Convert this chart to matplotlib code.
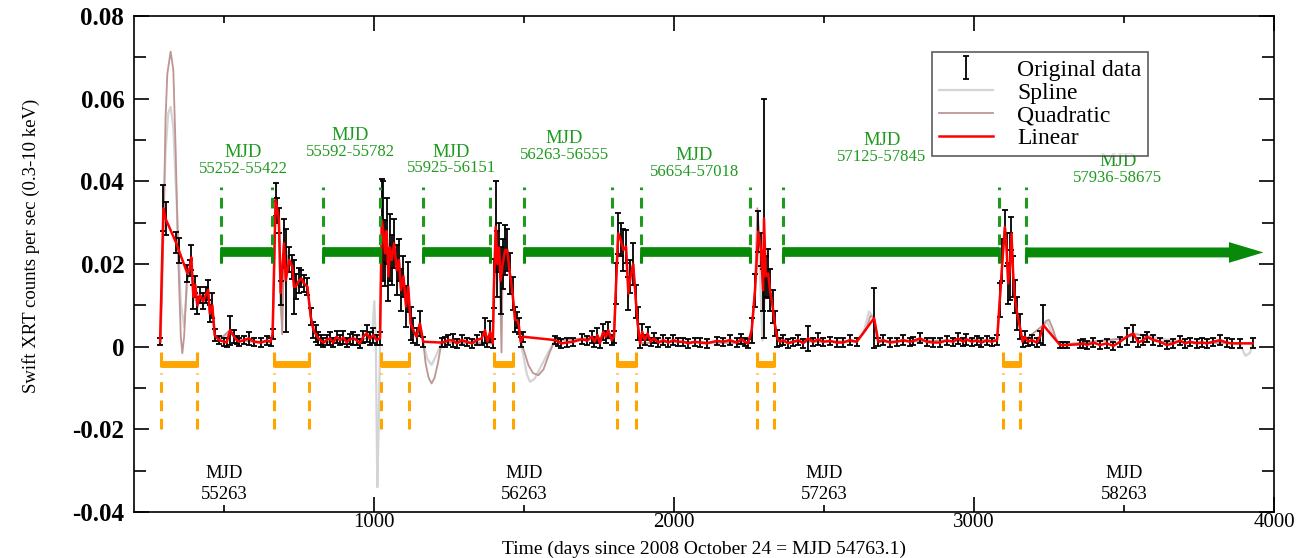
import matplotlib.pyplot as plt

plt.rcParams['font.family'] = ['Liberation Serif', 'DejaVu Serif']

# Swift XRT light curve (days since MJD 54763.1, counts/s, 1-sigma error)
days = [287, 298, 305, 340, 350, 378, 386, 391, 398, 404, 411, 420, 430, 439, 447, 453, 461, 469, 483, 500,
        509, 520, 533, 542, 550, 567, 583, 600, 622, 644, 655, 662,
        672, 678, 683, 689, 700, 706, 717, 728, 733, 739, 750, 758, 767, 778, 789, 798, 805, 814, 822, 831,
        842, 853, 864, 875, 887, 898, 909, 920, 931, 942, 953, 964, 975, 987, 998, 1009, 1020,
        1026, 1031, 1037, 1042, 1048, 1053, 1059, 1067, 1076, 1083, 1090, 1098, 1107, 1114, 1122, 1131,
        1142, 1153, 1164,
        1225, 1237, 1248, 1264, 1276, 1292, 1309, 1326, 1342, 1359, 1370, 1378, 1387, 1396,
        1400, 1406, 1411, 1417, 1422, 1429, 1437, 1444, 1453, 1462, 1470, 1478, 1483, 1489, 1498,
        1603, 1614, 1625, 1642, 1664, 1692, 1711, 1726, 1735, 1745, 1753, 1764, 1773, 1781, 1792, 1800,
        1807, 1814, 1822, 1831, 1840, 1848, 1855, 1864, 1873, 1879, 1887, 1894, 1903, 1912, 1922, 1933,
        1948, 1964, 1981, 1998, 2014, 2031, 2048, 2070, 2087, 2110, 2142, 2164, 2186, 2209, 2225, 2236,
        2247, 2259,
        2270, 2281, 2290, 2297, 2300, 2306, 2314, 2320, 2329, 2336, 2344, 2353, 2364, 2381, 2397, 2414,
        2431, 2447, 2464, 2481, 2497, 2520, 2542, 2564, 2586, 2609, 2667, 2681, 2697, 2720, 2742, 2764,
        2786, 2797, 2820, 2842, 2864, 2886, 2909, 2931, 2947, 2964, 2975, 2992, 3009, 3025, 3042, 3059,
        3077,
        3086, 3095, 3103, 3109, 3114, 3120, 3125, 3131, 3136, 3144, 3153, 3162, 3170, 3181, 3192, 3209,
        3220, 3231, 3287, 3298, 3309, 3354, 3365, 3376, 3398, 3420, 3442, 3465, 3487, 3509, 3531, 3548,
        3565, 3576, 3598, 3620, 3642, 3665, 3687, 3704, 3720, 3742, 3759, 3776, 3798, 3820, 3842, 3859,
        3887, 3929]
rate = [0.0012, 0.0335, 0.0310, 0.0252, 0.0232, 0.0177, 0.0190, 0.0216, 0.0120, 0.0150, 0.0100, 0.0125,
        0.0110, 0.0125, 0.0137, 0.0080, 0.0100, 0.0028, 0.0016, 0.0012, 0.0010, 0.0040, 0.0025, 0.0016,
        0.0012, 0.0016, 0.0020, 0.0012, 0.0010, 0.0015, 0.0012, 0.0030,
        0.0355, 0.0330, 0.0306, 0.0130, 0.0250, 0.0160, 0.0210, 0.0193, 0.0145, 0.0145, 0.0160, 0.0165,
        0.0153, 0.0145, 0.0073, 0.0040, 0.0032, 0.0020, 0.0016, 0.0010, 0.0016, 0.0020, 0.0010, 0.0024,
        0.0016, 0.0022, 0.0010, 0.0018, 0.0020, 0.0016, 0.0008, 0.0024, 0.0032, 0.0020, 0.0028, 0.0016,
        0.0020,
        0.0306, 0.0280, 0.0226, 0.0280, 0.0170, 0.0240, 0.0210, 0.0250, 0.0185, 0.0210, 0.0137, 0.0170,
        0.0097, 0.0145, 0.0056, 0.0040, 0.0024, 0.0056, 0.0012,
        0.0010, 0.0012, 0.0016, 0.0015, 0.0008, 0.0016, 0.0012, 0.0008, 0.0016, 0.0020, 0.0040, 0.0012,
        0.0036, 0.0008,
        0.0153, 0.0290, 0.0200, 0.0240, 0.0160, 0.0200, 0.0234, 0.0234, 0.0177, 0.0129, 0.0065, 0.0064,
        0.0050, 0.0012, 0.0024,
        0.0016, 0.0012, 0.0008, 0.0010, 0.0012, 0.0018, 0.0015, 0.0024, 0.0012, 0.0028, 0.0008, 0.0036,
        0.0024, 0.0040, 0.0016, 0.0024,
        0.0153, 0.0274, 0.0260, 0.0234, 0.0242, 0.0129, 0.0170, 0.0200, 0.0110, 0.0056, 0.0008, 0.0036,
        0.0016, 0.0032, 0.0012, 0.0020, 0.0010, 0.0016, 0.0010, 0.0016, 0.0012, 0.0012, 0.0008, 0.0012,
        0.0010, 0.0008, 0.0014, 0.0012, 0.0016, 0.0010, 0.0018, 0.0012, 0.0008, 0.0040,
        0.0137, 0.0278, 0.0234, 0.0137, 0.0310, 0.0170, 0.0177, 0.0137, 0.0097, 0.0056, 0.0020, 0.0012,
        0.0016, 0.0008, 0.0012, 0.0016, 0.0008, 0.0020, 0.0012, 0.0018, 0.0012, 0.0014, 0.0010, 0.0010,
        0.0016, 0.0012, 0.0069, 0.0012, 0.0016, 0.0010, 0.0012, 0.0016, 0.0012, 0.0014, 0.0020, 0.0012,
        0.0010, 0.0010, 0.0015, 0.0012, 0.0020, 0.0012, 0.0018, 0.0012, 0.0015, 0.0010, 0.0015, 0.0012,
        0.0016,
        0.0113, 0.0210, 0.0290, 0.0234, 0.0153, 0.0194, 0.0274, 0.0169, 0.0121, 0.0080, 0.0048, 0.0012,
        0.0024, 0.0012, 0.0016, 0.0010, 0.0024, 0.0052, 0.0004, 0.0004, 0.0004, 0.0006, 0.0008, 0.0004,
        0.0010, 0.0004, 0.0008, 0.0002, 0.0012, 0.0024, 0.0032, 0.0010, 0.0016, 0.0024, 0.0016, 0.0012,
        0.0004, 0.0008, 0.0015, 0.0008, 0.0012, 0.0008, 0.0010, 0.0008, 0.0012, 0.0016, 0.0010, 0.0008,
        0.0008, 0.0008]
err = [0.0008, 0.0055, 0.0040, 0.0025, 0.0030, 0.0020, 0.0020, 0.0030, 0.0030, 0.0020, 0.0020, 0.0020,
       0.0020, 0.0020, 0.0025, 0.0020, 0.0030, 0.0015, 0.0010, 0.0010, 0.0010, 0.0035, 0.0015, 0.0010,
       0.0010, 0.0010, 0.0015, 0.0010, 0.0010, 0.0010, 0.0010, 0.0012,
       0.0040, 0.0030, 0.0030, 0.0030, 0.0060, 0.0125, 0.0030, 0.0030, 0.0065, 0.0030, 0.0030, 0.0020,
       0.0020, 0.0020, 0.0020, 0.0020, 0.0020, 0.0015, 0.0012, 0.0010, 0.0012, 0.0015, 0.0010, 0.0015,
       0.0012, 0.0015, 0.0010, 0.0012, 0.0015, 0.0012, 0.0010, 0.0015, 0.0020, 0.0015, 0.0018, 0.0012,
       0.0015,
       0.0100, 0.0120, 0.0080, 0.0080, 0.0060, 0.0080, 0.0060, 0.0060, 0.0060, 0.0050, 0.0050, 0.0050,
       0.0050, 0.0060, 0.0040, 0.0030, 0.0020, 0.0030, 0.0012,
       0.0010, 0.0012, 0.0012, 0.0015, 0.0010, 0.0012, 0.0010, 0.0010, 0.0012, 0.0015, 0.0030, 0.0012,
       0.0025, 0.0010,
       0.0060, 0.0110, 0.0080, 0.0060, 0.0080, 0.0060, 0.0060, 0.0050, 0.0050, 0.0040, 0.0030, 0.0020,
       0.0020, 0.0012, 0.0012,
       0.0010, 0.0010, 0.0010, 0.0010, 0.0010, 0.0012, 0.0012, 0.0015, 0.0012, 0.0018, 0.0010, 0.0020,
       0.0015, 0.0020, 0.0012, 0.0015,
       0.0050, 0.0050, 0.0040, 0.0050, 0.0040, 0.0040, 0.0040, 0.0050, 0.0040, 0.0040, 0.0012, 0.0020,
       0.0012, 0.0015, 0.0010, 0.0012, 0.0010, 0.0012, 0.0010, 0.0012, 0.0010, 0.0010, 0.0010, 0.0010,
       0.0010, 0.0010, 0.0010, 0.0010, 0.0012, 0.0010, 0.0012, 0.0010, 0.0010, 0.0030,
       0.0040, 0.0050, 0.0040, 0.0050, 0.0290, 0.0050, 0.0060, 0.0050, 0.0040, 0.0030, 0.0020, 0.0010,
       0.0012, 0.0010, 0.0010, 0.0012, 0.0010, 0.0030, 0.0010, 0.0015, 0.0010, 0.0010, 0.0010, 0.0010,
       0.0012, 0.0010, 0.0072, 0.0010, 0.0012, 0.0010, 0.0010, 0.0012, 0.0010, 0.0010, 0.0012, 0.0010,
       0.0010, 0.0010, 0.0012, 0.0010, 0.0013, 0.0010, 0.0013, 0.0010, 0.0012, 0.0010, 0.0012, 0.0010,
       0.0012,
       0.0040, 0.0050, 0.0040, 0.0040, 0.0050, 0.0080, 0.0040, 0.0050, 0.0040, 0.0040, 0.0030, 0.0012,
       0.0015, 0.0010, 0.0012, 0.0010, 0.0015, 0.0048, 0.0008, 0.0008, 0.0008, 0.0010, 0.0010, 0.0010,
       0.0010, 0.0010, 0.0010, 0.0010, 0.0012, 0.0020, 0.0020, 0.0010, 0.0012, 0.0012, 0.0012, 0.0010,
       0.0010, 0.0010, 0.0012, 0.0010, 0.0010, 0.0010, 0.0010, 0.0010, 0.0010, 0.0012, 0.0010, 0.0010,
       0.0010, 0.0012]

# spline and quadratic interpolations
spline_days = [287, 294, 305, 314, 322, 331, 342, 356, 367, 378, 386, 391, 398, 404, 411, 420, 430, 439,
               447, 453, 461, 469, 483, 520, 545, 600, 655, 662, 672, 678, 683, 689, 694, 700, 706, 712,
               717, 728, 739, 750, 767, 778, 789, 805, 830, 900, 975, 995, 1001, 1006, 1011, 1016, 1021,
               1026, 1031, 1037, 1042, 1048, 1053, 1059, 1067, 1076, 1083, 1090, 1098, 1107, 1114, 1122,
               1131, 1142, 1153, 1164, 1178, 1192, 1208, 1225, 1300, 1396, 1400, 1406, 1411, 1417, 1422,
               1429, 1437, 1444, 1453, 1462, 1470, 1480, 1489, 1500, 1510, 1520, 1535, 1555, 1580, 1603,
               1700, 1800, 1807, 1814, 1822, 1831, 1840, 1848, 1855, 1864, 1873, 1879, 1887, 1950, 2100,
               2247, 2259, 2270, 2281, 2288, 2295, 2302, 2314, 2320, 2329, 2336, 2353, 2450, 2609, 2630,
               2650, 2662, 2672, 2681, 2800, 3077, 3086, 3095, 3103, 3109, 3114, 3120, 3125, 3131, 3136,
               3144, 3153, 3162, 3220, 3231, 3245, 3260, 3287, 3500, 3531, 3700, 3860, 3887, 3905, 3920,
               3929]
spline_rate = [0.0012, 0.0226, 0.0470, 0.0565, 0.0580, 0.0530, 0.0350, 0.0105, 0.0048, 0.0160, 0.0190,
               0.0210, 0.0110, 0.0150, 0.0090, 0.0130, 0.0100, 0.0125, 0.0135, 0.0070, 0.0095, 0.0028,
               0.0015, 0.0035, 0.0015, 0.0012, 0.0010, 0.0030, 0.0360, 0.0330, 0.0290, 0.0090, 0.0065,
               0.0260, 0.0150, 0.0230, 0.0210, 0.0190, 0.0130, 0.0165, 0.0150, 0.0145, 0.0070, 0.0030,
               0.0008, 0.0018, 0.0030, 0.0040, 0.0110, 0.0020, -0.0340, -0.0180, 0.0050, 0.0310, 0.0280,
               0.0220, 0.0290, 0.0160, 0.0250, 0.0210, 0.0260, 0.0180, 0.0220, 0.0130, 0.0180, 0.0090,
               0.0150, 0.0050, 0.0040, 0.0020, 0.0060, 0.0010, -0.0030, -0.0044, -0.0020, 0.0010, 0.0015,
               0.0008, 0.0150, 0.0300, 0.0190, 0.0250, 0.0140, 0.0210, 0.0240, 0.0240, 0.0170, 0.0120,
               0.0060, 0.0050, 0.0010, -0.0030, -0.0068, -0.0085, -0.0078, -0.0050, -0.0015, 0.0016,
               0.0015, 0.0020, 0.0160, 0.0280, 0.0260, 0.0230, 0.0250, 0.0120, 0.0170, 0.0200, 0.0100,
               0.0050, 0.0008, 0.0012, 0.0010, 0.0010, 0.0040, 0.0120, 0.0290, 0.0150, 0.0015, 0.0120,
               0.0180, 0.0140, 0.0090, 0.0050, 0.0010, 0.0015, 0.0012, 0.0030, 0.0085, 0.0075, 0.0020,
               0.0012, 0.0015, 0.0016, 0.0110, 0.0210, 0.0290, 0.0230, 0.0150, 0.0200, 0.0270, 0.0160,
               0.0120, 0.0080, 0.0040, 0.0010, 0.0024, 0.0052, 0.0058, 0.0035, 0.0004, 0.0020, 0.0032,
               0.0010, 0.0008, 0.0005, -0.0022, -0.0015, 0.0008]
quad_days = [287, 289, 294, 300, 305, 311, 322, 331, 339, 347, 356, 361, 367, 376, 386, 391, 398, 404,
             411, 420, 430, 439, 447, 453, 461, 469, 483, 520, 545, 600, 655, 662, 672, 678, 683, 689,
             694, 700, 706, 712, 717, 728, 739, 750, 767, 778, 789, 805, 830, 900, 1020, 1026, 1031, 1037,
             1042, 1048, 1053, 1059, 1067, 1076, 1083, 1090, 1098, 1107, 1114, 1122, 1131, 1142, 1153,
             1164, 1172, 1182, 1192, 1202, 1213, 1225, 1396, 1400, 1406, 1411, 1417, 1421, 1425, 1429,
             1437, 1444, 1453, 1462, 1470, 1480, 1489, 1500, 1515, 1530, 1548, 1565, 1585, 1603, 1800,
             1807, 1814, 1822, 1831, 1840, 1848, 1855, 1864, 1873, 1879, 1887, 2000, 2150, 2247, 2259,
             2270, 2278, 2285, 2290, 2297, 2306, 2314, 2320, 2329, 2336, 2344, 2353, 2609, 2640, 2655,
             2667, 2681, 3077, 3086, 3095, 3103, 3109, 3114, 3120, 3125, 3131, 3136, 3144, 3153, 3162,
             3231, 3240, 3250, 3262, 3275, 3287, 3500, 3540, 3580, 3620, 3929]
quad_rate = [0.0012, 0.0016, 0.0145, 0.0340, 0.0550, 0.0660, 0.0714, 0.0670, 0.0470, 0.0226, 0.0024,
             -0.0016, 0.0024, 0.0160, 0.0190, 0.0216, 0.0115, 0.0150, 0.0095, 0.0125, 0.0105, 0.0125,
             0.0137, 0.0075, 0.0100, 0.0028, 0.0016, 0.0040, 0.0016, 0.0012, 0.0012, 0.0030, 0.0355,
             0.0330, 0.0300, 0.0110, 0.0030, 0.0250, 0.0160, 0.0220, 0.0210, 0.0193, 0.0145, 0.0160,
             0.0153, 0.0145, 0.0073, 0.0032, 0.0010, 0.0018, 0.0020, 0.0306, 0.0280, 0.0226, 0.0280,
             0.0170, 0.0240, 0.0210, 0.0250, 0.0185, 0.0210, 0.0137, 0.0170, 0.0097, 0.0145, 0.0056,
             0.0040, 0.0024, 0.0056, 0.0012, -0.0040, -0.0075, -0.0089, -0.0075, -0.0040, 0.0010,
             0.0008, 0.0153, 0.0290, 0.0200, 0.0240, 0.0120, -0.0014, 0.0200, 0.0234, 0.0234, 0.0177,
             0.0129, 0.0065, 0.0060, 0.0012, -0.0010, -0.0045, -0.0064, -0.0069, -0.0055, -0.0015,
             0.0016, 0.0024, 0.0153, 0.0274, 0.0260, 0.0234, 0.0242, 0.0129, 0.0170, 0.0200, 0.0110,
             0.0056, 0.0008, 0.0012, 0.0010, 0.0008, 0.0040, 0.0137, 0.0335, 0.0260, 0.0234, 0.0137,
             0.0170, 0.0177, 0.0137, 0.0097, 0.0056, 0.0020, 0.0012, 0.0012, 0.0040, 0.0075, 0.0069,
             0.0012, 0.0016, 0.0113, 0.0210, 0.0290, 0.0234, 0.0153, 0.0194, 0.0274, 0.0169, 0.0121,
             0.0080, 0.0048, 0.0012, 0.0052, 0.0062, 0.0065, 0.0045, 0.0015, 0.0004, 0.0020, 0.0030,
             0.0025, 0.0012, 0.0008]

# observing windows (days since MJD 54763.1)
green_start = [489, 829, 1162, 1500, 1891, 2362, 3173]
green_end = [659, 1019, 1388, 1792, 2255, 3082, 3965]
green_text = ['55252-55422', '55592-55782', '55925-56151', '56263-56555',
              '56654-57018', '57125-57845', '57936-58675']
green_text_x = [563, 920, 1257, 1635, 2067, 2693, 3480]
green_text_y = [0.0430, 0.0471, 0.0432, 0.0464, 0.0423, 0.0459, 0.0408]
orange_start = [290, 667, 1023, 1400, 1810, 2277, 3097]
orange_end = [410, 783, 1117, 1463, 1873, 2333, 3153]
mjd_days = [500, 1500, 2500, 3500]
mjd_text = ['55263', '56263', '57263', '58263']

green = '#1f9a1f'
bar_green = '#078a07'
orange = '#ffa500'

fig = plt.figure(figsize=(13.1, 5.58), dpi=100)
ax = fig.add_axes([0.1023, 0.0824, 0.8702, 0.8889])

spl, = ax.plot(spline_days, spline_rate, color='#d4d4d4', lw=1.6, label='Spline')
quad, = ax.plot(quad_days, quad_rate, color='#bf9494', lw=1.3, label='Quadratic')
eb = ax.errorbar(days, rate, yerr=err, fmt='none', ecolor='black', elinewidth=1.3,
                 capsize=2.5, capthick=1.3, label='Original data')
lin, = ax.plot(days, rate, color='#ff0000', lw=1.8, label='Linear')

# green windows: dashed edges, thick bar, labels
bar_y = 0.0228
for i in range(len(green_start)):
    s, e = green_start[i], green_end[i]
    ax.vlines(s, 0.0203, 0.0386, color=green, lw=2.2, linestyles=(0, (3.5, 2.5)))
    ax.vlines(s, 0.0202, 0.0240, color=bar_green, lw=2)
    if i < len(green_start) - 1:
        ax.vlines(e, 0.0203, 0.0386, color=green, lw=2.2, linestyles=(0, (3.5, 2.5)))
        ax.vlines(e, 0.0202, 0.0240, color=bar_green, lw=2)
        ax.hlines(bar_y, s, e, color=bar_green, lw=7)
    else:
        ax.arrow(s, bar_y, e - s, 0, width=0.0024, head_width=0.005, head_length=115,
                 length_includes_head=True, color=bar_green, lw=0)
    ax.text(green_text_x[i], green_text_y[i] + 0.0039, 'MJD', color=green, fontsize=13.5,
            ha='center', va='center')
    ax.text(green_text_x[i], green_text_y[i], green_text[i], color=green, fontsize=12,
            ha='center', va='center')

# orange outburst windows
for s, e in zip(orange_start, orange_end):
    ax.hlines(-0.0041, s, e, color=orange, lw=5)
    ax.vlines([s, e], -0.0050, -0.0013, color=orange, lw=2.2)
    ax.vlines([s, e], -0.0199, -0.0064, color=orange, lw=2.2, linestyles=(0, (3.5, 2.5)))

for d, t in zip(mjd_days, mjd_text):
    ax.text(d, -0.0308, 'MJD', fontsize=13.5, ha='center', va='center')
    ax.text(d, -0.0357, t, fontsize=13.5, ha='center', va='center')

ax.set_xlim(200, 4000)
ax.set_ylim(-0.04, 0.08)
ax.set_xticks([1000, 2000, 3000, 4000])
ax.set_xticks([500, 1500, 2500, 3500], minor=True)
ax.set_yticks([-0.04, -0.02, 0, 0.02, 0.04, 0.06, 0.08])
ax.set_yticklabels(['-0.04', '-0.02', '0', '0.02', '0.04', '0.06', '0.08'], fontweight='bold')
ax.set_yticks([-0.03, -0.01, 0.01, 0.03, 0.05, 0.07], minor=True)
ax.tick_params(which='both', direction='in', top=True, right=True, width=1.2)
ax.tick_params(axis='x', which='major', length=11, labelsize=15, pad=1)
ax.tick_params(axis='x', which='minor', length=5)
ax.tick_params(axis='y', which='major', length=11, labelsize=18, pad=7)
ax.tick_params(axis='y', which='minor', length=8.5)
for sp in ax.spines.values():
    sp.set_linewidth(1.2)

ax.set_xlabel('Time (days since 2008 October 24 = MJD 54763.1)', fontsize=14, va='baseline')
ax.xaxis.set_label_coords(0.5, -0.0847)
ax.set_ylabel('Swift XRT counts per sec (0.3-10 keV)', fontsize=13.5, va='center')
ax.yaxis.set_label_coords(-0.0904, 0.536)

leg = ax.legend([eb, spl, quad, lin], ['Original data', 'Spline', 'Quadratic', 'Linear'],
                loc='upper left', bbox_to_anchor=(0.700, 0.927), fontsize=17, frameon=True,
                fancybox=False, edgecolor='#333333', handlelength=2.3, labelspacing=0.05,
                borderpad=0.3, handletextpad=1.0, borderaxespad=0)
leg.get_frame().set_linewidth(1.2)

fig.savefig('out.png', dpi=100)
